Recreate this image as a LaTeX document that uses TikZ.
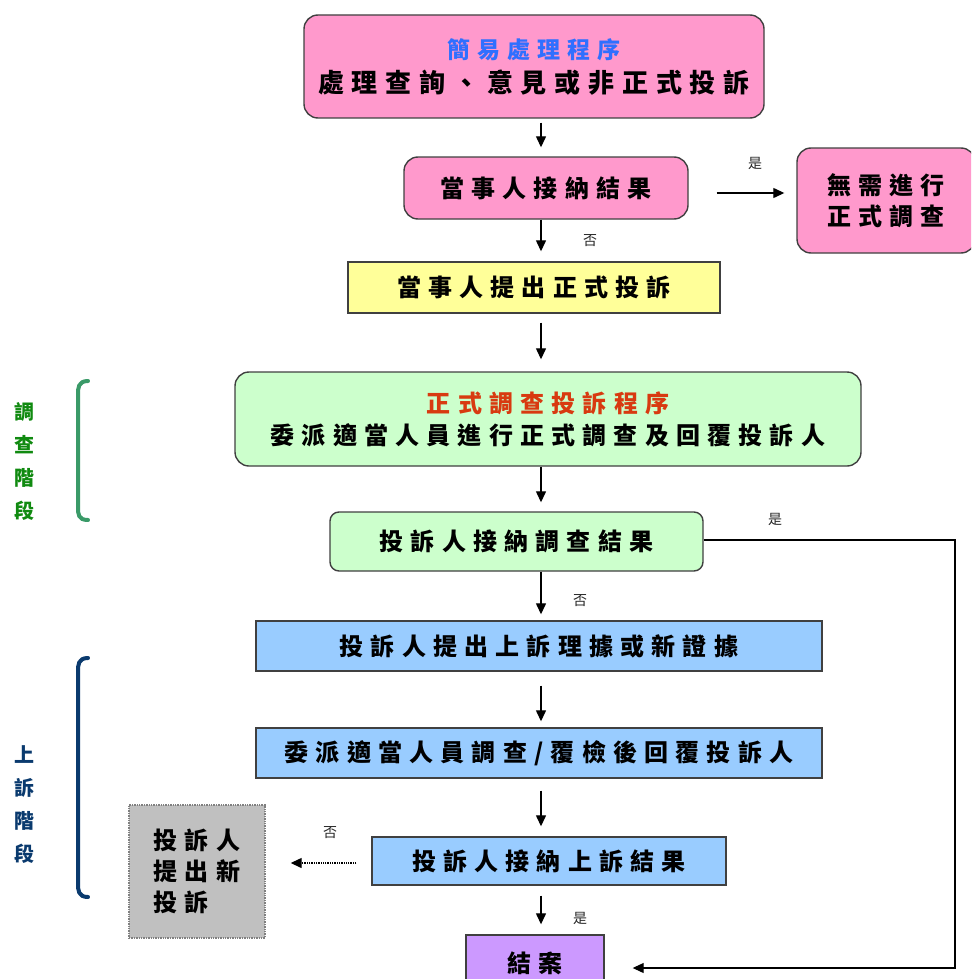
\documentclass[tikz,border=0pt]{standalone}
\usepackage{fontspec}
\setmainfont{Noto Sans CJK TC}
\newfontfamily\cjk[LetterSpace=30]{Noto Sans CJK TC}
\usetikzlibrary{arrows.meta,calc}
\definecolor{bord}{HTML}{404040}
\definecolor{pinkf}{HTML}{FF99CC}
\definecolor{yellowf}{HTML}{FFFF99}
\definecolor{greenf}{HTML}{CCFFCC}
\definecolor{bluef}{HTML}{99CCFF}
\definecolor{purplef}{HTML}{CC99FF}
\definecolor{grayf}{HTML}{C0C0C0}
\definecolor{titleblue}{HTML}{2F6FFF}
\definecolor{titlered}{HTML}{D83A10}
\definecolor{brgreen}{HTML}{3A9A68}
\definecolor{lblgreen}{HTML}{108A10}
\definecolor{brblue}{HTML}{0A3A6E}
\tikzset{
  box/.style={draw=bord,line width=1.4pt,inner sep=0pt,align=center,font=\cjk\bfseries\fontsize{24}{31}\selectfont},
  rbox/.style={box,rounded corners=14pt},
  arr/.style={-{Triangle[length=11pt,width=10pt]},line width=1.3pt,black},
  lbl/.style={font=\fontsize{14}{16}\selectfont,text=black!85},
  stage/.style={font=\bfseries\fontsize{20}{33}\selectfont,align=center}
}
\begin{document}
\begin{tikzpicture}[x=1pt,y=-1pt]
\useasboundingbox (0,0) rectangle (971,979);
\clip (0,0) rectangle (971,979);
\coordinate (xm) at (541,0);
% nodes
\node[rbox,fill=pinkf,minimum width=460pt,minimum height=103pt] (top) at (534,66.5)
  {{\color{titleblue}\fontsize{23}{30}\selectfont 簡易處理程序}\\[3pt]{\fontsize{26}{30}\selectfont 處理查詢、意見或非正式投訴}};
\node[rbox,fill=pinkf,minimum width=284pt,minimum height=62pt] (acc1) at (546,188) {當事人接納結果};
\node[rbox,fill=pinkf,minimum width=178pt,minimum height=105pt] (noinv) at (886,200.5) {無需進行\\正式調查};
\node[box,fill=yellowf,minimum width=372pt,minimum height=51pt] (formal) at (534,287.5) {當事人提出正式投訴};
\node[rbox,fill=greenf,minimum width=626pt,minimum height=94pt] (inv) at (548,419)
  {{\color{titlered}正式調查投訴程序}\\[1pt]委派適當人員進行正式調查及回覆投訴人};
\node[rbox,fill=greenf,minimum width=373pt,minimum height=59pt,rounded corners=9pt] (acc2) at (516.5,541.5) {投訴人接納調查結果};
\node[box,fill=bluef,minimum width=566pt,minimum height=50pt] (appeal) at (539,646) {投訴人提出上訴理據或新證據};
\node[box,fill=bluef,minimum width=566pt,minimum height=50pt] (review) at (539,753) {委派適當人員調查/覆檢後回覆投訴人};
\node[box,fill=bluef,minimum width=354pt,minimum height=48pt] (acc3) at (549,861) {投訴人接納上訴結果};
\node[box,fill=grayf,draw=gray,densely dotted,line width=1.4pt,minimum width=136pt,minimum height=133pt,align=left] (newc) at (197,871.5) {投訴人\\提出新\\投訴};
\node[box,fill=purplef,minimum width=138pt,minimum height=56pt] (close) at (535,963) {結案};
% vertical arrows
\draw[arr,shorten <=4pt,shorten >=9pt] (top.south -| xm) -- (acc1.north -| xm);
\draw[arr,shorten >=10pt] (acc1.south -| xm) -- (formal.north -| xm);
\draw[arr,shorten <=9pt,shorten >=12pt] (formal.south -| xm) -- (inv.north -| xm);
\draw[arr,shorten >=9pt] (inv.south -| xm) -- (acc2.north -| xm);
\draw[arr,shorten >=6pt] (acc2.south -| xm) -- (appeal.north -| xm);
\draw[arr,shorten <=14pt,shorten >=6pt] (appeal.south -| xm) -- (review.north -| xm);
\draw[arr,shorten <=12pt,shorten >=10pt] (review.south -| xm) -- (acc3.north -| xm);
\draw[arr,shorten <=10pt,shorten >=10pt] (acc3.south -| xm) -- (close.north -| xm);
% side arrows
\coordinate (y193) at (0,193);
\draw[arr,shorten <=28pt,shorten >=12pt] (acc1.east |- y193) -- (noinv.west |- y193);
\coordinate (y863) at (0,863);
\draw[arr,densely dotted,shorten <=15pt,shorten >=25pt] (acc3.west |- y863) -- (newc.east |- y863);
\coordinate (rc) at (955,0);
\coordinate (yb) at (0,968);
\draw[arr,line width=1.1pt,shorten >=28pt] ($(acc2.east)+(0,-1.5)$) -| (rc |- yb) -- (close.east |- yb);
% labels
\node[lbl] (l1) at (755,163) {是};
\node[lbl] (l2) at (590,241) {否};
\node[lbl] (l3) at (775,519) {是};
\node[lbl] (l4) at (580,601) {否};
\node[lbl] (l5) at (330,833) {否};
\node[lbl] (l6) at (580,918) {是};
% brackets
\draw[brgreen,line width=4pt,line cap=round] (88,381) .. controls (78,381) and (78,388) .. (78,395) -- (78,507) .. controls (78,514) and (78,520) .. (88,520);
\node[stage,text=lblgreen] (s1) at (24,461) {調\\查\\階\\段};
\draw[brblue,line width=4pt,line cap=round] (88,658) .. controls (78,658) and (78,665) .. (78,672) -- (78,883) .. controls (78,890) and (78,897) .. (88,897);
\node[stage,text=brblue] (s2) at (24,805) {上\\訴\\階\\段};
\end{tikzpicture}
\end{document}
